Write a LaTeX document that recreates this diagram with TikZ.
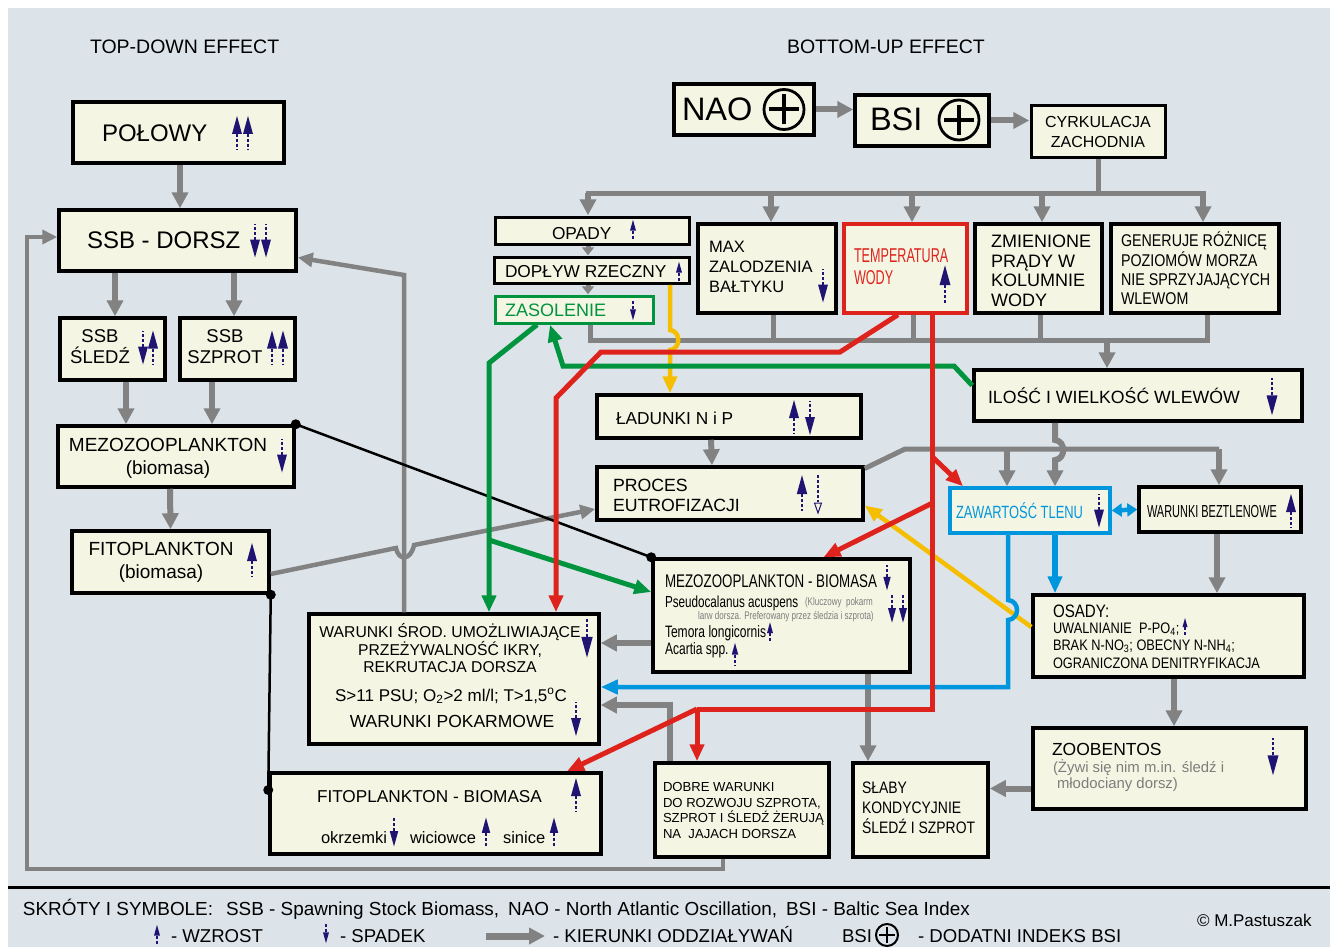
\documentclass[tikz,border=0pt]{standalone}
\usepackage{graphicx}
\usepackage{fontspec}
\setmainfont{Liberation Sans}
\newfontfamily\narrowA[FakeStretch=0.63]{Liberation Sans}
\newfontfamily\narrowB[FakeStretch=0.73]{Liberation Sans}
\newfontfamily\narrowC[FakeStretch=0.84]{Liberation Sans}
\usetikzlibrary{arrows.meta}
\newcommand{\fsz}[2]{\fontsize{#1}{#2}\selectfont}
\begin{document}
\begin{tikzpicture}[x=1pt,y=-1pt,line join=miter,
  box/.style={draw=black,line width=3.5pt,fill=boxColor,inner sep=0pt,outer sep=1.75pt},
  txt/.style={inner sep=0pt,outer sep=0pt,anchor=base west},
  para/.style={inner sep=0pt,outer sep=0pt,anchor=west,align=left},
  cpara/.style={inner sep=0pt,outer sep=0pt,align=center},
  garrow/.style={draw=lineColor,line width=6pt,-{Triangle[length=16pt,width=16pt]}},
  gthin/.style={draw=lineColor,line width=4.5pt,-{Triangle[length=15pt,width=14pt]}},
  gsmall/.style={draw=lineColor,line width=5pt,-{Triangle[length=8pt,width=12pt]}},
  gline/.style={draw=lineColor,line width=5pt},
  rline/.style={draw=redColor,line width=5pt},
  rarrow/.style={rline,-{Triangle[length=17pt,width=14pt]}},
  garr/.style={draw=greenColor,line width=5pt,-{Triangle[length=17pt,width=14pt]}},
  yarr/.style={draw=yellowColor,line width=4.5pt,-{Triangle[length=17pt,width=14pt]}},
  barr/.style={draw=blueColor,line width=4.5pt,-{Triangle[length=17pt,width=14pt]}},
  bline/.style={draw=black,line width=2.5pt},
  wup/.pic={
    \path[fill=navyColor] (0,-17) -- (5,1) -- (-5,1) -- cycle;
    \path[draw=navyColor,line width=1.8pt,dash pattern=on 3pt off 2pt] (0,1) -- (0,17);
  },
  wdown/.pic={
    \path[fill=navyColor] (0,17) -- (5,-1) -- (-5,-1) -- cycle;
    \path[draw=navyColor,line width=1.8pt,dash pattern=on 3pt off 2pt] (0,-1) -- (0,-17);
  },
  wdownopen/.pic={
    \path[draw=navyColor,line width=1.3pt,dash pattern=on 3pt off 2pt] (0,-19) -- (0,8);
    \path[draw=navyColor,line width=1pt,fill=boxColor] (0,19) -- (3.5,9) -- (-3.5,9) -- cycle;
  }
]
\definecolor{bgColor}{RGB}{220,228,234}
\definecolor{boxColor}{RGB}{245,245,227}
\definecolor{lineColor}{RGB}{130,130,130}
\definecolor{navyColor}{RGB}{32,20,115}
\definecolor{redColor}{RGB}{222,35,28}
\definecolor{greenColor}{RGB}{0,148,62}
\definecolor{yellowColor}{RGB}{246,190,0}
\definecolor{blueColor}{RGB}{0,150,222}
\definecolor{noteColor}{RGB}{125,125,125}
\path[use as bounding box,fill=white] (0,0) rectangle (1330,947);
\path[fill=bgColor] (8,8) rectangle (1330,947);
\path[draw=black,line width=3pt] (8,887) -- (1330,887);

\node[txt,font=\fsz{19.5}{23}] (tdT) at (90,54) {TOP-DOWN EFFECT};
\node[txt,font=\fsz{19.5}{23}] (buT) at (787,54) {BOTTOM-UP EFFECT};

\node[box,minimum width=211,minimum height=61] (polowy) at (178.5,132.5) {};
\node[box,minimum width=237,minimum height=61] (ssbd) at (177.5,240.5) {};
\node[box,minimum width=105,minimum height=62] (ssbs) at (112.5,349) {};
\node[box,minimum width=115,minimum height=62] (ssbp) at (237.5,349) {};
\node[box,minimum width=236,minimum height=61] (mezo) at (176,456.5) {};
\node[box,minimum width=197,minimum height=62] (fito) at (170.5,562) {};
\node[box,minimum width=290,minimum height=130] (wsrod) at (454,679) {};
\node[box,minimum width=331,minimum height=81] (fitob) at (435.5,813.5) {};
\node[box,minimum width=140,minimum height=51] (nao) at (744,109.5) {};
\node[box,minimum width=134,minimum height=51] (bsi) at (922,120.5) {};
\node[box,minimum width=134,minimum height=51,line width=3pt] (cyrk) at (1098,131.5) {};
\node[box,minimum width=194,minimum height=27,line width=3pt] (opady) at (592,230.5) {};
\node[box,minimum width=195,minimum height=26,line width=3pt] (doplyw) at (591.5,270) {};
\node[box,minimum width=158,minimum height=27,line width=3pt,draw=greenColor] (zasol) at (574,309.5) {};
\node[box,minimum width=138,minimum height=89] (maxzal) at (767,268.5) {};
\node[box,minimum width=123,minimum height=89,draw=redColor] (temp) at (905.5,268.5) {};
\node[box,minimum width=127,minimum height=89] (prady) at (1038.5,268.5) {};
\node[box,minimum width=168,minimum height=89] (generuje) at (1195,268.5) {};
\node[box,minimum width=328,minimum height=51] (ilosc) at (1138,395.5) {};
\node[box,minimum width=264,minimum height=43] (ladunki) at (729,416.5) {};
\node[box,minimum width=266,minimum height=53] (proces) at (730,493.5) {};
\node[box,minimum width=160,minimum height=45,draw=blueColor] (tlen) at (1030,510.5) {};
\node[box,minimum width=162,minimum height=45] (bezt) at (1220,509.5) {};
\node[box,minimum width=257,minimum height=113] (mezob) at (781.5,615.5) {};
\node[box,minimum width=271,minimum height=82] (osady) at (1168.5,636) {};
\node[box,minimum width=273,minimum height=81] (zoob) at (1169.5,768.5) {};
\node[box,minimum width=174,minimum height=94] (dobre) at (742,810) {};
\node[box,minimum width=135,minimum height=94] (slaby) at (920.5,810) {};

\draw[garrow] ([xshift=1.5]polowy.south) -- ([xshift=2.5]ssbd.north);
\draw[garrow] ([xshift=-62.5]ssbd.south) -- ([xshift=2.5]ssbs.north);
\draw[garrow] ([xshift=56.5]ssbd.south) -- ([xshift=-3.5]ssbp.north);
\draw[garrow] ([xshift=13.5]ssbs.south) -- ([xshift=-50]mezo.north);
\draw[garrow] ([xshift=-25.5]ssbp.south) -- ([xshift=36]mezo.north);
\draw[garrow] ([xshift=-6]mezo.south) -- (fito.north);
\draw[gthin] ([xshift=-19]dobre.south) |- (27,869) |- ([yshift=3.5]ssbd.west);
\draw[gthin] ([xshift=-50]wsrod.north) -- (404,275) -- ([yshift=-17]ssbd.east);
\draw[gthin] ([yshift=-12]fito.east) -- (396,548) .. controls (399,562) and (411,560) .. (414,545) -- ([yshift=-15.5]proces.west);

\draw[garrow] (nao.east) -- (nao.east -| bsi.west);
\draw[garrow] (bsi.east) -- (bsi.east -| cyrk.west);
\draw[gline] (cyrk.south) -- (1098,193);
\draw[gline,line cap=rect] (588,193) -- (1203,193);
\draw[garrow] (588,193) -- ([xshift=-4]opady.north);
\draw[garrow] (771,193) -- ([xshift=4]maxzal.north);
\draw[garrow] (912,193) -- ([xshift=6.5]temp.north);
\draw[garrow] (1042,193) -- ([xshift=3.5]prady.north);
\draw[garrow] (1203,193) -- ([xshift=8]generuje.north);
\draw[gsmall] ([xshift=-4]opady.south) -- ([xshift=-3.5]doplyw.north);
\draw[gsmall] ([xshift=-3.5]doplyw.south) -- ([xshift=14]zasol.north);
\draw[gline] ([xshift=16]zasol.south) |- (1207,340) -- ([xshift=12]generuje.south);
\draw[gline] ([xshift=6]maxzal.south) -- (773,340);
\draw[gline] ([xshift=7.5]temp.south) -- (913,340);
\draw[gline] ([xshift=1.5]prady.south) -- (1040,340);
\draw[garrow] (1107,340) -- ([xshift=-31]ilosc.north);
\draw[garrow] ([xshift=-83]ilosc.south) -- (1055,440) .. controls (1066,441) and (1066,459) .. (1055,460) -- ([xshift=25]tlen.north);
\draw[gline] ([yshift=25]proces.east) -- (905,449) -- (1219,449);
\draw[garrow] (1007,449) -- ([xshift=-23]tlen.north);
\draw[garrow] (1219,449) -- ([xshift=-1]bezt.north);
\draw[garrow] ([xshift=-3]bezt.south) -- ([xshift=48.5]osady.north);
\draw[garrow] ([xshift=5.5]osady.south) -- ([xshift=4.5]zoob.north);
\draw[garrow] ([yshift=-20]zoob.west) -- ([yshift=21.5]slaby.east);
\draw[garrow] ([xshift=86.5]mezob.south) -- ([xshift=-52.5]slaby.north);
\draw[garrow] ([yshift=-27.5]mezob.west) -- ([yshift=36]wsrod.east);
\draw[garrow] ([xshift=-72]dobre.north) |- ([yshift=-26]wsrod.east);
\draw[garrow] ([xshift=-18]ladunki.south) -- ([xshift=-18]proces.north);

\draw[bline] (mezo.north east) -- (mezob.north west);
\path[fill=black] (mezo.north east) circle[radius=5pt] (mezob.north west) circle[radius=5pt];
\draw[bline] (fito.south east) -- ([yshift=23.5]fitob.west);
\path[fill=black] (fito.south east) circle[radius=5pt] ([yshift=23.5]fitob.west) circle[radius=5pt];

\draw[yarr] ([xshift=78.5]doplyw.south) -- (670,330) .. controls (681,331) and (681,349) .. (670,350) -- ([xshift=-59]ladunki.north);
\draw[yarr] ([yshift=9]osady.west) -- ([yshift=-12]proces.east);

\draw[barr] ([xshift=-22]tlen.south) -- (1008,600) .. controls (1020,601) and (1020,619) .. (1008,620) -- (1008,687) -- ([yshift=-8]wsrod.east);
\draw[barr,line width=6pt] ([xshift=25]tlen.south) -- ([xshift=-113.5]osady.north);
\draw[draw=blueColor,line width=4.5pt,{Triangle[length=10pt,width=13pt]}-{Triangle[length=10pt,width=13pt]}] (tlen.east) -- (bezt.west);

\coordinate (g1) at (489,363);
\coordinate (g2) at (489,540);
\coordinate (g3) at (954,366);
\coordinate (g4) at (563,366);
\draw[garr] ([xshift=-37]zasol.south) -- (g1) -- ([xshift=35]wsrod.north);
\draw[garr] (g2) -- ([yshift=23.5]mezob.west);
\draw[garr] ([yshift=10]ilosc.west) -- (g3) -- (g4) -- ([xshift=-24]zasol.south);

\coordinate (r1) at (840,352);
\coordinate (r2) at (601,352);
\coordinate (r3) at (556,398);
\coordinate (r4) at (932.5,709);
\coordinate (r5) at (697,709);
\coordinate (r6) at (932.5,503);
\coordinate (r7) at (932.5,457);
\draw[rarrow] ([xshift=-7.5]temp.south) -- (r1) -- (r2) -- (r3) -- ([xshift=102]wsrod.north);
\draw[rline] ([xshift=27]temp.south) -- (r4) -- (r5);
\draw[rarrow] (r5) -- ([xshift=-45]dobre.north);
\draw[rarrow] (r5) -- ([xshift=131.5]fitob.north);
\draw[rarrow] (r6) -- ([xshift=42]mezob.north);
\draw[rarrow] (r7) -- ([xshift=-67]tlen.north);

\node[txt,font=\fsz{24}{28}] (polowyT) at (102,142) {POŁOWY};
\node[txt,font=\fsz{24}{28}] (ssbdT) at (87,248) {SSB - DORSZ};
\node[cpara,font=\fsz{18.5}{21}] (ssbsT) at (100,347) {SSB\\ŚLEDŹ};
\node[cpara,font=\fsz{18.5}{21}] (ssbpT) at (225,347) {SSB\\SZPROT};
\node[cpara,font=\fsz{19}{23}] (mezoT) at (168,458.7) {MEZOZOOPLANKTON\\(biomasa)};
\node[cpara,font=\fsz{19}{23}] (fitoT) at (161,562.7) {FITOPLANKTON\\(biomasa)};
\node[cpara,font=\fsz{15.7}{17.5}] (wsrodT) at (450,648.5) {WARUNKI ŚROD. UMOŻLIWIAJĄCE\\PRZEŻYWALNOŚĆ IKRY,\\REKRUTACJA DORSZA};
\node[txt,anchor=base,font=\fsz{17}{20}] (psuT) at (451,701) {S>11 PSU; O\textsubscript{2}>2 ml/l; T>1,5\textsuperscript{o}C};
\node[txt,anchor=base,font=\fsz{17.5}{20}] (pokT) at (452,727) {WARUNKI POKARMOWE};
\node[txt,font=\fsz{17.2}{20}] (fitobT) at (317,802) {FITOPLANKTON - BIOMASA};
\node[txt,font=\fsz{16.5}{20}] (okrT) at (321,843) {okrzemki};
\node[txt,font=\fsz{16.5}{20}] (wicT) at (410,843) {wiciowce};
\node[txt,font=\fsz{16.5}{20}] (sinT) at (503,843) {sinice};
\node[txt,font=\fsz{32.5}{36}] (naoT) at (682,121) {NAO};
\node[txt,font=\fsz{32.5}{36}] (bsiT) at (870,131) {BSI};
\node[cpara,font=\fsz{16}{20}] (cyrkT) at (1098,132.2) {CYRKULACJA\\ZACHODNIA};
\node[txt,font=\fsz{17.3}{20}] (opadyT) at (552,239) {OPADY};
\node[txt,font=\fsz{17.3}{20}] (doplywT) at (505,277) {DOPŁYW RZECZNY};
\node[txt,font=\fsz{18}{20},text=greenColor] (zasolT) at (505,316) {ZASOLENIE};
\node[para,font=\fsz{16.5}{20}] (maxzalT) at (709,267) {MAX\\ZALODZENIA\\BAŁTYKU};
\node[para,font=\narrowA\fsz{20}{22},text=redColor] (tempT) at (854,266.8) {TEMPERATURA\\WODY};
\node[para,font=\fsz{18}{19.5}] (pradyT) at (991,270.8) {ZMIENIONE\\PRĄDY W\\KOLUMNIE\\WODY};
\node[para,font=\narrowC\fsz{17}{19.3}] (generujeT) at (1121,268.4) {GENERUJE RÓŻNICĘ\\POZIOMÓW MORZA\\NIE SPRZYJAJĄCYCH\\WLEWOM};
\node[txt,font=\fsz{17.7}{20}] (iloscT) at (988,403) {ILOŚĆ I WIELKOŚĆ WLEWÓW};
\node[txt,font=\fsz{17.3}{20}] (ladunkiT) at (616,424) {ŁADUNKI N i P};
\node[para,font=\fsz{17.7}{20}] (procesT) at (613,495.7) {PROCES\\EUTROFIZACJI};
\node[txt,font=\narrowB\fsz{17.7}{20},text=blueColor] (tlenT) at (956,518) {ZAWARTOŚĆ TLENU};
\node[txt,font=\narrowA\fsz{17.4}{20}] (beztT) at (1147,517) {WARUNKI BEZTLENOWE};
\node[txt,font=\narrowB\fsz{18.3}{20}] (mezobT) at (665,587) {MEZOZOOPLANKTON - BIOMASA};
\node[txt,font=\narrowB\fsz{16}{20}] (pseudoT) at (665,607) {Pseudocalanus acuspens};
\node[txt,font=\narrowB\fsz{11}{13},text=noteColor] (klucT) at (805,605) {(Kluczowy\ \ pokarm};
\node[txt,font=\narrowB\fsz{11}{13},text=noteColor] (larwT) at (698,619) {larw dorsza. Preferowany przez śledzia i szprota)};
\node[txt,font=\narrowB\fsz{16.5}{20}] (temoraT) at (665,637) {Temora longicornis};
\node[txt,font=\narrowB\fsz{16.5}{20}] (acartiaT) at (665,654) {Acartia spp.};
\node[txt,font=\narrowC\fsz{18}{20}] (osadyT) at (1053,617) {OSADY:};
\node[txt,font=\narrowC\fsz{15.2}{18}] (osady1) at (1053,633) {UWALNIANIE\ \ P-PO\textsubscript{4};};
\node[txt,font=\narrowC\fsz{15.2}{18}] (osady2) at (1053,650) {BRAK N-NO\textsubscript{3}; OBECNY N-NH\textsubscript{4};};
\node[txt,font=\narrowC\fsz{15.2}{18}] (osady3) at (1053,668) {OGRANICZONA DENITRYFIKACJA};
\node[txt,font=\fsz{17.5}{20}] (zoobT) at (1052,755) {ZOOBENTOS};
\node[txt,font=\fsz{14.9}{17},text=noteColor] (zoob1) at (1053,772) {(Żywi się nim m.in. śledź i};
\node[txt,font=\fsz{14.9}{17},text=noteColor] (zoob2) at (1057,788) {młodociany dorsz)};
\node[para,font=\fsz{13.1}{15.7}] (dobreT) at (663,810.6) {DOBRE WARUNKI\\DO ROZWOJU SZPROTA,\\SZPROT I ŚLEDŹ ŻERUJĄ\\NA\ \ JAJACH DORSZA};
\node[para,font=\narrowC\fsz{16.6}{20}] (slabyT) at (862,808) {SŁABY\\KONDYCYJNIE\\ŚLEDŹ I SZPROT};

\path[draw=black,line width=2.8pt] (784,109.5) circle[radius=20pt];
\path[draw=black,line width=4pt] (769,109.5) -- (799,109.5) (784,94.5) -- (784,124.5);
\path[draw=black,line width=2.8pt] (959,120) circle[radius=20pt];
\path[draw=black,line width=4pt] (944,120) -- (974,120) (959,105) -- (959,135);

\pic at (237,133) {wup};
\pic at (248,133) {wup};
\pic at (255,240.5) {wdown};
\pic at (266,240.5) {wdown};
\pic at (143,347.5) {wdown};
\pic at (153,347.5) {wup};
\pic at (272,347.5) {wup};
\pic at (283,347.5) {wup};
\pic at (282,455.5) {wdown};
\pic at (252,560) {wup};
\pic[scale=1.15] at (587,638) {wdown};
\pic at (576,719) {wdown};
\pic at (576,795) {wup};
\pic[scale=0.85] at (394,832) {wdown};
\pic[scale=0.85] at (486,832) {wup};
\pic[scale=0.85] at (554,832) {wup};
\pic[scale=0.6] at (633,230) {wup};
\pic[scale=0.6] at (679,272) {wup};
\pic[scale=0.6] at (633,310) {wdown};
\pic at (823,285.5) {wdown};
\pic[scale=1.1] at (945,284) {wup};
\pic[scale=1.1] at (1272,396.5) {wdown};
\pic at (794,417) {wup};
\pic at (810,418) {wdown};
\pic[scale=1.05] at (802,493) {wup};
\pic at (818,494) {wdownopen};
\pic at (1099,510.5) {wdown};
\pic at (1291,511) {wup};
\pic[scale=0.75] at (887,577.5) {wdown};
\pic[scale=0.8] at (892,609) {wdown};
\pic[scale=0.8] at (903,609) {wdown};
\pic[scale=0.6] at (770,632.5) {wup};
\pic[scale=0.65] at (735,654) {wup};
\pic[scale=0.5] at (1185,626.5) {wup};
\pic[scale=1.1] at (1273,756.5) {wdown};

\node[txt,font=\fsz{18.9}{22}] (legT) at (23,915) {SKRÓTY I SYMBOLE:\hspace{13pt}SSB - Spawning Stock Biomass,\hspace{9pt}NAO - North Atlantic Oscillation,\hspace{9pt}BSI - Baltic Sea Index};
\pic[scale=0.6] at (157,935) {wup};
\node[txt,font=\fsz{18.6}{22}] (wzrT) at (171,942) {- WZROST};
\pic[scale=0.6] at (326,933) {wdown};
\node[txt,font=\fsz{18.6}{22}] (spdT) at (340,942) {- SPADEK};
\coordinate (la) at (486,936);
\coordinate (lb) at (545,936);
\draw[garrow,line width=7pt] (la) -- (lb);
\node[txt,font=\fsz{18.6}{22}] (kierT) at (553,942) {- KIERUNKI ODDZIAŁYWAŃ};
\node[txt,font=\fsz{18.6}{22}] (bsiL) at (842,942) {BSI};
\path[draw=black,line width=2pt] (887,935) circle[radius=11pt];
\path[draw=black,line width=2.5pt] (879,935) -- (895,935) (887,927) -- (887,943);
\node[txt,font=\fsz{18.6}{22}] (dodT) at (918,942) {- DODATNI INDEKS BSI};
\node[txt,font=\fsz{17}{20}] (copyT) at (1197,926) {© M.Pastuszak};
\end{tikzpicture}
\end{document}
